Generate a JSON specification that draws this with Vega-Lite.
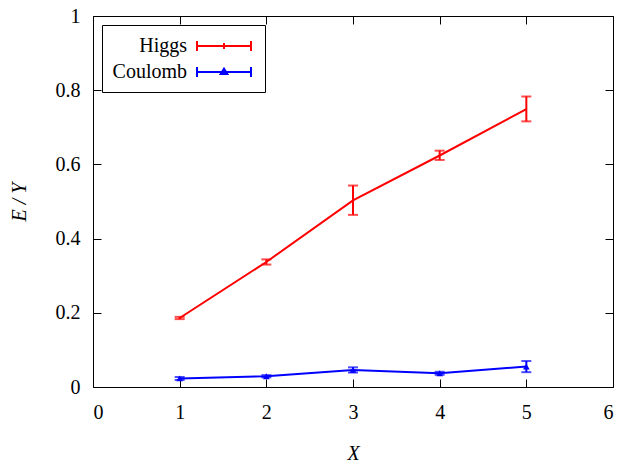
{
  "$schema": "https://vega.github.io/schema/vega-lite/v6.json",
  "width": 520,
  "height": 371,
  "autosize": "none",
  "padding": {"left": 93, "top": 16, "right": 8, "bottom": 77},
  "background": "white",
  "config": {
    "font": "Liberation Serif, Times New Roman, serif",
    "view": {"stroke": null},
    "axis": {
      "domainColor": "black",
      "domainWidth": 1,
      "tickColor": "black",
      "tickWidth": 1,
      "tickSize": -8,
      "grid": false,
      "labelFont": "Liberation Serif, Times New Roman, serif",
      "labelFontSize": 20,
      "labelColor": "black",
      "titleFont": "Liberation Serif, Times New Roman, serif",
      "titleFontSize": 20,
      "titleFontStyle": "italic",
      "titleFontWeight": "normal",
      "titleColor": "black"
    }
  },
  "data": {
    "values": [
      {"series": "Higgs", "x": 1, "y": 0.186, "lo": 0.183, "hi": 0.189},
      {"series": "Higgs", "x": 2, "y": 0.337, "lo": 0.330, "hi": 0.344},
      {"series": "Higgs", "x": 3, "y": 0.503, "lo": 0.464, "hi": 0.543},
      {"series": "Higgs", "x": 4, "y": 0.624, "lo": 0.612, "hi": 0.637},
      {"series": "Higgs", "x": 5, "y": 0.749, "lo": 0.716, "hi": 0.783},
      {"series": "Coulomb", "x": 1, "y": 0.023, "lo": 0.019, "hi": 0.027},
      {"series": "Coulomb", "x": 2, "y": 0.029, "lo": 0.026, "hi": 0.032},
      {"series": "Coulomb", "x": 3, "y": 0.046, "lo": 0.039, "hi": 0.053},
      {"series": "Coulomb", "x": 4, "y": 0.037, "lo": 0.033, "hi": 0.041},
      {"series": "Coulomb", "x": 5, "y": 0.055, "lo": 0.040, "hi": 0.070}
    ]
  },
  "resolve": {
    "scale": {"x": "independent", "y": "independent"},
    "legend": {"color": "independent", "shape": "independent"}
  },
  "layer": [
    {
      "mark": {"type": "rule", "strokeWidth": 2},
      "encoding": {
        "x": {"field": "x", "type": "quantitative", "scale": {"domain": [0, 6], "nice": false},
              "axis": {"orient": "bottom", "values": [0, 1, 2, 3, 4, 5, 6], "title": "X", "labelPadding": 23, "titlePadding": 21}},
        "y": {"field": "lo", "type": "quantitative", "scale": {"domain": [0, 1], "nice": false},
              "axis": {"orient": "left", "values": [0, 0.2, 0.4, 0.6, 0.8, 1], "format": "~g", "title": "E / Y", "labelPadding": 21, "titlePadding": 26}},
        "y2": {"field": "hi"},
        "color": {"field": "series", "type": "nominal", "scale": {"domain": ["Higgs", "Coulomb"], "range": ["#ff0000", "#0000ff"]}, "legend": null}
      }
    },
    {
      "mark": {"type": "tick", "orient": "horizontal", "thickness": 2, "size": 10},
      "encoding": {
        "x": {"field": "x", "type": "quantitative", "scale": {"domain": [0, 6], "nice": false}, "axis": null},
        "y": {"field": "lo", "type": "quantitative", "scale": {"domain": [0, 1], "nice": false}, "axis": null},
        "color": {"field": "series", "type": "nominal", "legend": null}
      }
    },
    {
      "mark": {"type": "tick", "orient": "horizontal", "thickness": 2, "size": 10},
      "encoding": {
        "x": {"field": "x", "type": "quantitative", "scale": {"domain": [0, 6], "nice": false}, "axis": null},
        "y": {"field": "hi", "type": "quantitative", "scale": {"domain": [0, 1], "nice": false}, "axis": null},
        "color": {"field": "series", "type": "nominal", "legend": null}
      }
    },
    {
      "mark": {"type": "line", "strokeWidth": 2},
      "encoding": {
        "x": {"field": "x", "type": "quantitative", "scale": {"domain": [0, 6], "nice": false},
              "axis": {"orient": "top", "values": [0, 1, 2, 3, 4, 5, 6], "labels": false, "title": null}},
        "y": {"field": "y", "type": "quantitative", "scale": {"domain": [0, 1], "nice": false},
              "axis": {"orient": "right", "values": [0, 0.2, 0.4, 0.6, 0.8, 1], "labels": false, "title": null}},
        "color": {"field": "series", "type": "nominal", "legend": null}
      }
    },
    {
      "transform": [{"filter": "datum.series === 'Coulomb'"}],
      "mark": {"type": "point", "shape": "triangle-up", "filled": true, "size": 45, "opacity": 1},
      "encoding": {
        "x": {"field": "x", "type": "quantitative", "scale": {"domain": [0, 6], "nice": false}, "axis": null},
        "y": {"field": "y", "type": "quantitative", "scale": {"domain": [0, 1], "nice": false}, "axis": null},
        "color": {"field": "series", "type": "nominal", "legend": null}
      }
    },
    {
      "mark": {"type": "point", "opacity": 0, "filled": false},
      "encoding": {
        "x": {"field": "x", "type": "quantitative", "scale": {"domain": [0, 6], "nice": false}, "axis": null},
        "y": {"field": "y", "type": "quantitative", "scale": {"domain": [0, 1], "nice": false}, "axis": null},
        "color": {"field": "series", "type": "nominal",
                  "legend": {"orient": "none", "legendX": 9, "legendY": 9, "title": null, "strokeColor": "black",
                             "fillColor": "white", "padding": 10, "symbolSize": 400, "symbolStrokeWidth": 2, "symbolOpacity": 1,
                             "symbolOffset": 101,
                             "labelFont": "Liberation Serif, Times New Roman, serif", "labelFontSize": 20, "labelColor": "black",
                             "labelAlign": "right", "labelOffset": -48, "rowPadding": 5}},
        "shape": {"field": "series", "type": "nominal",
                  "scale": {"domain": ["Higgs", "Coulomb"],
                            "range": ["M-2.7,0L2.7,0M-2.7,-0.5L-2.7,0.5M2.7,-0.5L2.7,0.5M0,-0.3L0,0.3",
                                      "M-2.7,0L2.7,0M-2.7,-0.5L-2.7,0.5M2.7,-0.5L2.7,0.5M-0.33,0.2L0,-0.33L0.33,0.2Z"]},
                  "legend": {"orient": "none", "legendX": 9, "legendY": 9, "title": null, "strokeColor": "black",
                             "fillColor": "white", "padding": 10, "symbolSize": 400, "symbolStrokeWidth": 2, "symbolOpacity": 1,
                             "symbolOffset": 101,
                             "labelFont": "Liberation Serif, Times New Roman, serif", "labelFontSize": 20, "labelColor": "black",
                             "labelAlign": "right", "labelOffset": -48, "rowPadding": 5}}
      }
    }
  ]
}
